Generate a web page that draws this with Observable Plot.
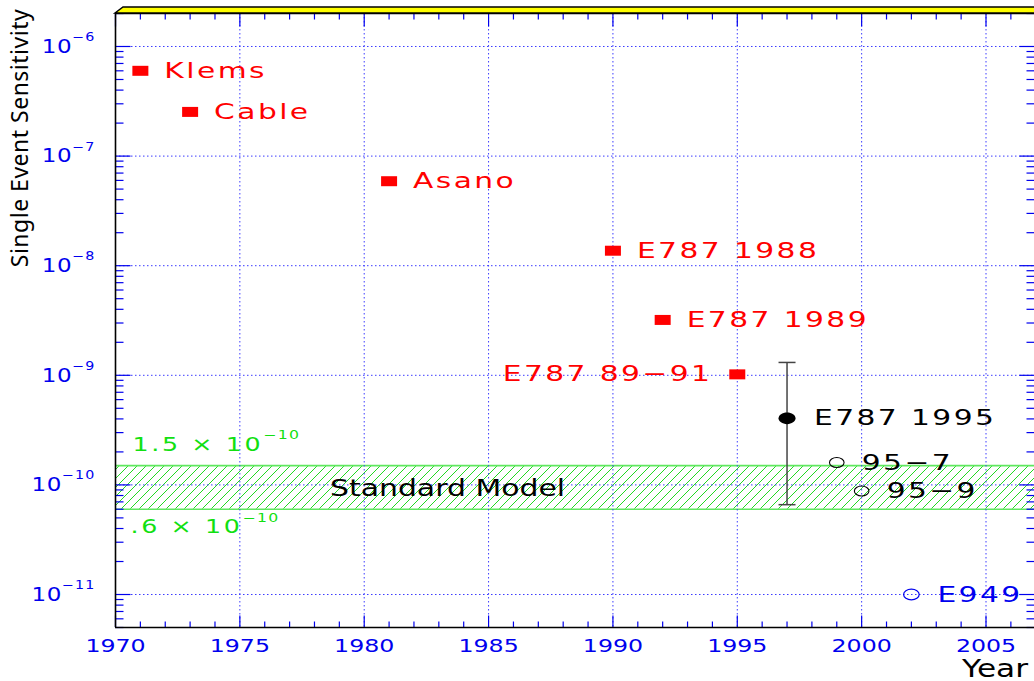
<!DOCTYPE html>
<html><head><meta charset="utf-8">
<script src="https://cdn.jsdelivr.net/npm/d3@7"></script>
<script src="https://cdn.jsdelivr.net/npm/@observablehq/plot@0.6"></script>
<style>body{margin:0;background:#fff}</style>
</head><body><div id="chart"></div>
<script>
// ---- data ----
const redNames = ["Klems", "Cable", "Asano", "E787 1988", "E787 1989", "E787 89−91"];
const redYears = [1971, 1973, 1981, 1990, 1992, 1995];
const redSES   = [6.0e-7, 2.53e-7, 5.9e-8, 1.37e-8, 3.2e-9, 1.02e-9];

const e787Name = ["E787 1995"];
const e787Year = [1997];
const e787SES  = [4.05e-10];
const e787Low  = [6.6e-11];
const e787High = [1.31e-9];

const openNames = ["95−7", "95−9"];
const openYears = [1999, 2000];
const openSES   = [1.6e-10, 8.8e-11];

const e949Name = ["E949"];
const e949Year = [2002];
const e949SES  = [1.0e-11];

const smLow = 0.6e-10, smHigh = 1.5e-10;
const smLabels = ["1.5 × 10^−10", ".6 × 10^−10", "Standard Model"];

const xDomain = [1970, 2006.95];
const yDomain = [5e-12, 2e-6];
const xMajor = [1970, 1975, 1980, 1985, 1990, 1995, 2000, 2005];
const xMinor = d3.range(1971, 2007).filter(y => y % 5 !== 0);
const yDecades = [1e-6, 1e-7, 1e-8, 1e-9, 1e-10, 1e-11];
const yDecadeLabels = ["10^−6", "10^−7", "10^−8", "10^−9", "10^−10", "10^−11"];
const yMinor = [];
for (const d of [1e-12, 1e-11, 1e-10, 1e-9, 1e-8, 1e-7, 1e-6])
  for (let m = 2; m <= 9; m++) { const v = m * d; if (v >= yDomain[0] * 0.999 && v <= yDomain[1] * 1.001) yMinor.push(v); }

const red = redNames.map((n, i) => ({name: n, year: redYears[i], v: redSES[i]}));
const e787 = e787Name.map((n, i) => ({name: n, year: e787Year[i], v: e787SES[i], lo: e787Low[i], hi: e787High[i]}));
const open = openNames.map((n, i) => ({name: n, year: openYears[i], v: openSES[i]}));
const e949 = e949Name.map((n, i) => ({name: n, year: e949Year[i], v: e949SES[i]}));

// ---- symbols ----
const rectSym = {draw(c) { c.rect(-8, -5, 16, 10); }};
const ellSym = (rx, ry) => ({draw(c) {
  const k = 0.5523;
  c.moveTo(rx, 0);
  c.bezierCurveTo(rx, ry * k, rx * k, ry, 0, ry);
  c.bezierCurveTo(-rx * k, ry, -rx, ry * k, -rx, 0);
  c.bezierCurveTo(-rx, -ry * k, -rx * k, -ry, 0, -ry);
  c.bezierCurveTo(rx * k, -ry, rx, -ry * k, rx, 0);
  c.closePath();
}});
const vLine = (a, b) => ({draw(c) { c.moveTo(0, a); c.lineTo(0, b); }});
const hLine = (a, b) => ({draw(c) { c.moveTo(a, 0); c.lineTo(b, 0); }});
const capSym = hLine(-8.5, 8.5);

const BLUE = "#0000ee", GRID = "#3c3cff", GREEN = "#11e011";
const x0 = () => xDomain[0], x1 = () => xDomain[1];
const yB = () => yDomain[0], yT = () => yDomain[1];

const chart = Plot.plot({
  width: 1034, height: 681,
  marginLeft: 115, marginRight: 0, marginTop: 13, marginBottom: 54,
  style: {fontFamily: "DejaVu Sans", background: "white", overflow: "visible"},
  x: {domain: xDomain},
  y: {type: "log", domain: yDomain},
  marks: [
    Plot.rect([{lo: smLow, hi: smHigh}], {x1: x0, x2: x1, y1: "lo", y2: "hi", fill: "url(#hatch)"}),
    Plot.ruleY([smLow, smHigh], {stroke: "#5fe85f", strokeWidth: 1.6}),
    Plot.ruleX(xMajor.slice(1), {stroke: GRID, strokeWidth: 1, strokeDasharray: "1.5,2.5"}),
    Plot.ruleY(yDecades, {stroke: GRID, strokeWidth: 1, strokeDasharray: "1.5,2.5"}),
    Plot.dot(xMajor, {x: d => d, y: yB, symbol: vLine(0, -12), stroke: BLUE, strokeWidth: 1.2, fill: "none"}),
    Plot.dot(xMinor, {x: d => d, y: yB, symbol: vLine(0, -6), stroke: BLUE, strokeWidth: 1.2, fill: "none"}),
    Plot.dot(xMajor, {x: d => d, y: yT, symbol: vLine(0, 13), stroke: BLUE, strokeWidth: 1.2, fill: "none"}),
    Plot.dot(xMinor, {x: d => d, y: yT, symbol: vLine(0, 6), stroke: BLUE, strokeWidth: 1.2, fill: "none"}),
    Plot.dot(yDecades, {x: x0, y: d => d, symbol: hLine(0, 15), stroke: BLUE, strokeWidth: 1.2, fill: "none"}),
    Plot.dot(yMinor, {x: x0, y: d => d, symbol: hLine(0, 8), stroke: BLUE, strokeWidth: 1.2, fill: "none"}),
    Plot.dot(yDecades, {x: x1, y: d => d, symbol: hLine(-15, 0), stroke: BLUE, strokeWidth: 1.2, fill: "none"}),
    Plot.dot(yMinor, {x: x1, y: d => d, symbol: hLine(-8, 0), stroke: BLUE, strokeWidth: 1.2, fill: "none"}),
    Plot.ruleX([xDomain[0]], {stroke: "black", strokeWidth: 1.6}),
    Plot.ruleY([yDomain[0], yDomain[1]], {stroke: "black", strokeWidth: 1.6}),
    Plot.axisX({anchor: "bottom", ticks: xMajor, tickSize: 0, tickPadding: 11, tickFormat: d => String(d), fill: BLUE, fontSize: 18.5, label: null}),
    Plot.axisY({anchor: "left", ticks: yDecades, tickSize: 0, tickPadding: 20, tickFormat: d => yDecadeLabels[yDecades.indexOf(d)], fill: BLUE, fontSize: 19.5, label: null}),
    Plot.dot(red, {x: "year", y: "v", symbol: rectSym, fill: "#ff0000", stroke: "none"}),
    Plot.text(red.slice(0, 5), {x: "year", y: "v", text: "name", dx: 24, textAnchor: "start", fill: "#ff0000", fontSize: 22}),
    Plot.text(red.slice(5), {x: "year", y: "v", text: "name", dx: -25, textAnchor: "end", fill: "#ff0000", fontSize: 22}),
    Plot.ruleX(e787, {x: "year", y1: "lo", y2: "hi", stroke: "#444", strokeWidth: 1.5}),
    Plot.dot(e787, {x: "year", y: "lo", symbol: capSym, stroke: "#444", strokeWidth: 1.5, fill: "none"}),
    Plot.dot(e787, {x: "year", y: "hi", symbol: capSym, stroke: "#444", strokeWidth: 1.5, fill: "none"}),
    Plot.dot(e787, {x: "year", y: "v", symbol: ellSym(8.5, 5.8), fill: "black", stroke: "none"}),
    Plot.text(e787, {x: "year", y: "v", text: "name", dx: 27, textAnchor: "start", fill: "black", fontSize: 22}),
    Plot.dot(open, {x: "year", y: "v", symbol: ellSym(7.3, 5), fill: "none", stroke: "black", strokeWidth: 1.1}),
    Plot.text(open, {x: "year", y: "v", text: "name", dx: 25, textAnchor: "start", fill: "black", fontSize: 22}),
    Plot.dot(e949, {x: "year", y: "v", symbol: ellSym(7.8, 5.3), fill: "none", stroke: BLUE, strokeWidth: 1.2}),
    Plot.text(e949, {x: "year", y: "v", text: "name", dx: 26, textAnchor: "start", fill: BLUE, fontSize: 22}),
    Plot.text([smLabels[0]], {x: x0, y: () => smHigh, dx: 17, dy: -21, text: d => d, textAnchor: "start", fill: GREEN, fontSize: 19.5}),
    Plot.text([smLabels[1]], {x: x0, y: () => smLow, dx: 15, dy: 18, text: d => d, textAnchor: "start", fill: GREEN, fontSize: 19.5}),
    Plot.text([smLabels[2]], {x: () => 1983.35, y: () => 9.3e-11, text: d => d, textAnchor: "middle", fill: "black", fontSize: 23})
  ]
});

const svg = d3.select(chart);
svg.insert("defs", ":first-child").html(
  `<pattern id="hatch" patternUnits="userSpaceOnUse" width="9" height="9">
     <path d="M-1,1 L1,-1 M0,9 L9,0 M8,10 L10,8" stroke="#22d822" stroke-width="1"/>
   </pattern>`);

// superscripts
svg.selectAll("text").each(function() {
  const t = this.textContent;
  if (!t.includes("^")) return;
  const [base, sup] = t.split("^");
  const sel = d3.select(this);
  let fs = parseFloat(sel.attr("font-size"));
  if (!fs) fs = parseFloat(d3.select(this.parentNode).attr("font-size")) || 20;
  sel.text(null);
  sel.append("tspan").text(base);
  sel.append("tspan").attr("dy", -fs * 0.6).attr("font-size", fs * 0.62).attr("letter-spacing", 1).text(sup);
});

// horizontal stretch to mimic the wide original font
function stretch(sel, s, ls) {
  sel.each(function() {
    const tr = this.getAttribute("transform") || "";
    this.setAttribute("transform", `${tr} scale(${s},1)`);
    if (ls != null) this.setAttribute("letter-spacing", ls);
  });
}
stretch(svg.selectAll("g[aria-label='x-axis tick label'] text"), 1.28, 0);
stretch(svg.selectAll("g[aria-label='y-axis tick label'] text"), 1.18, 0.5);
svg.selectAll("g[aria-label='text'] text").each(function() {
  const t = this.textContent;
  if (t === "Standard Model") stretch(d3.select(this), 1.3, 0);
  else if (smLabels.some(l => l.replace("^", "") === t)) stretch(d3.select(this), 1.3, 2);
  else stretch(d3.select(this), 1.35, 1.8);
});

const xr = chart.scale("x").range, yr = chart.scale("y").range;
const frameTop = Math.min(...yr), frameLeft = xr[0];
svg.append("path")
  .attr("d", `M${frameLeft},${frameTop} L${frameLeft + 8},${frameTop - 6} L${1040},${frameTop - 6} L${1040},${frameTop} Z`)
  .attr("fill", "#ffff00").attr("stroke", "black").attr("stroke-width", 1.5);

svg.append("text").attr("transform", `translate(${frameLeft - 87},${138}) rotate(-90)`)
  .attr("text-anchor", "middle").attr("font-family", "Noto Sans").attr("font-size", 23)
  .attr("letter-spacing", 0.5).attr("fill", "black").text("Single Event Sensitivity");
svg.append("text")
  .attr("text-anchor", "start").attr("font-family", "DejaVu Sans").attr("font-size", 24)
  .attr("fill", "black").text("Year")
  .attr("transform", `translate(962,${Math.max(...yr) + 50}) scale(1.3,1)`);

document.getElementById("chart").appendChild(chart);
</script>
</body></html>
